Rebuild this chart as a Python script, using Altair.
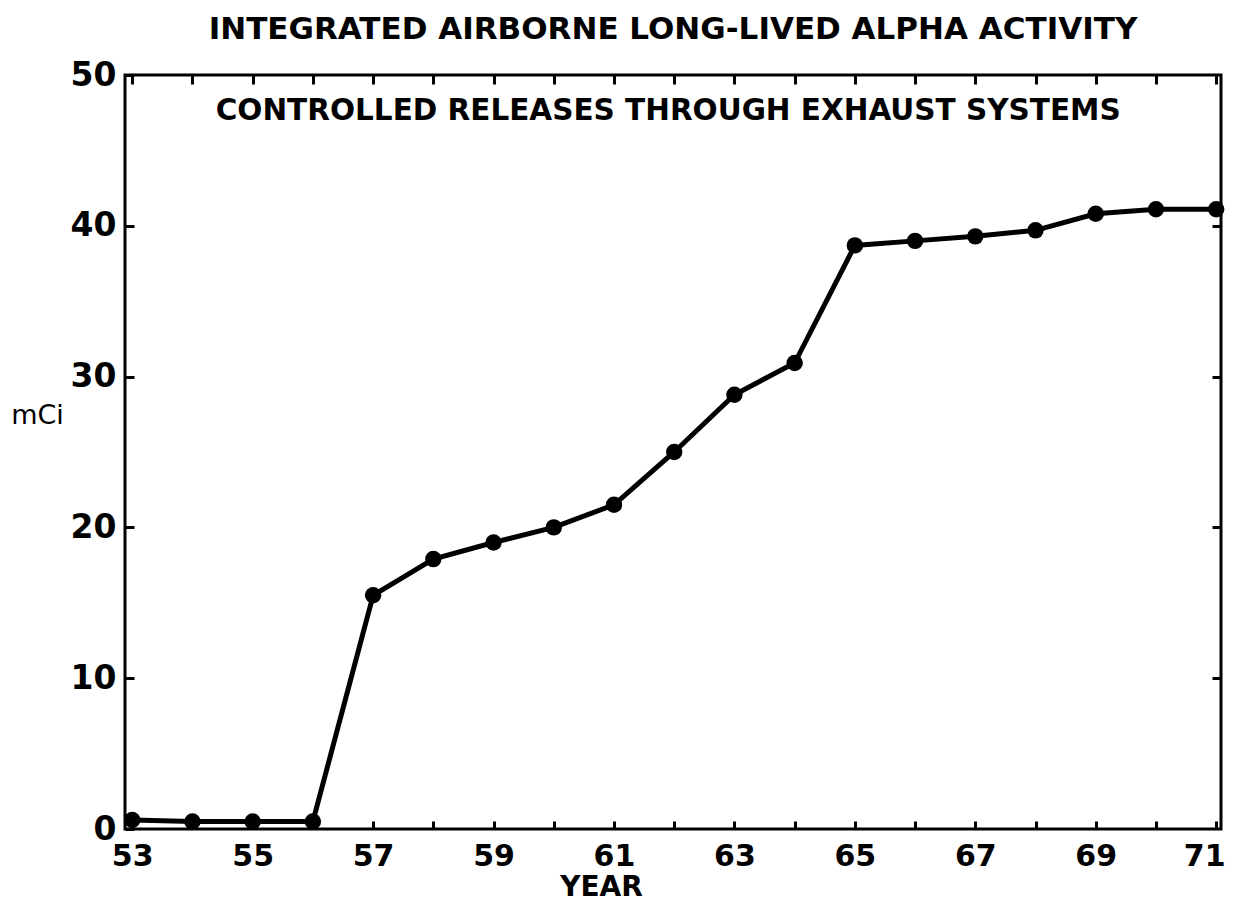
import altair as alt
import pandas as pd

years = [53, 54, 55, 56, 57, 58, 59, 60, 61, 62, 63, 64, 65, 66, 67, 68, 69, 70, 71]
mci = [0.6, 0.5, 0.5, 0.5, 15.5, 17.9, 19.0, 20.0, 21.5, 25.0, 28.8, 30.9, 38.7, 39.0, 39.3, 39.7, 40.8, 41.1, 41.1]
x_ticks = years
y_ticks = [0, 10, 20, 30, 40, 50]
y_ticks_right = [10, 20, 30, 40]

title_text = "INTEGRATED AIRBORNE LONG-LIVED ALPHA ACTIVITY"
sub_text = ["CONTROLLED RELEASES THROUGH EXHAUST SYSTEMS"]
sub_x = [61.9]
sub_y = [47.0]

df = pd.DataFrame({"year": years, "mci": mci})
sub_df = pd.DataFrame({"x": sub_x, "y": sub_y, "t": sub_text})

FONT = "DejaVu Sans"
xscale = alt.Scale(domain=[52.88, 71.08], nice=False, zero=False)
yscale = alt.Scale(domain=[0, 50], nice=False)

x_bottom = alt.Axis(
    orient="bottom", values=x_ticks, title="YEAR", grid=False, domain=False,
    offset=-8, tickSize=8, tickWidth=3, tickColor="black",
    labelExpr="datum.value % 2 == 1 ? datum.label : ''",
    labelOffset={"expr": "datum.value == 71 ? -12 : 0"},
    labelFont=FONT, labelFontSize=30, labelFontWeight="bold", labelColor="black",
    labelPadding=12, labelFlush=False, labelOverlap=False,
    titleFont=FONT, titleFontSize=28, titleFontWeight="bold", titleColor="black",
    titleX=476, titleY=74, titleAnchor="start", titleAlign="center", titleBaseline="alphabetic",
)
y_left = alt.Axis(
    orient="left", values=y_ticks, title="mCi", grid=False, domain=False,
    offset=-9, tickSize=9, tickWidth=3, tickColor="black",
    labelFont=FONT, labelFontSize=33, labelFontWeight="bold", labelColor="black",
    labelPadding=9, labelOverlap=False, labelFlush=False,
    titleFont=FONT, titleFontSize=27, titleFontWeight="normal", titleColor="black",
    titleAngle=0, titleX=-97, titleY=340, titleAlign="center", titleBaseline="middle",
)
x_top = alt.Axis(
    orient="top", values=x_ticks, title=None, labels=False, grid=False, domain=False,
    offset=-9, tickSize=9, tickWidth=3, tickColor="black",
)
y_right = alt.Axis(
    orient="right", values=y_ticks_right, title=None, labels=False, grid=False, domain=False,
    offset=-9, tickSize=9, tickWidth=3, tickColor="black",
)

base = alt.Chart(df)
line = base.mark_line(color="black", strokeWidth=5).encode(
    x=alt.X("year:Q", scale=xscale, axis=x_bottom),
    y=alt.Y("mci:Q", scale=yscale, axis=y_left),
)
pts = base.mark_circle(color="black", opacity=1, size=270).encode(
    x=alt.X("year:Q", scale=xscale, axis=None),
    y=alt.Y("mci:Q", scale=yscale, axis=None),
)
frame_axes = base.mark_point(opacity=0).encode(
    x=alt.X("year:Q", scale=xscale, axis=x_top),
    y=alt.Y("mci:Q", scale=yscale, axis=y_right),
)
sub = alt.Chart(sub_df).mark_text(
    font=FONT, fontSize=29.5, fontWeight="bold", color="black",
    align="center", baseline="alphabetic",
).encode(
    x=alt.X("x:Q", scale=xscale, axis=None),
    y=alt.Y("y:Q", scale=yscale, axis=None),
    text="t:N",
)

chart = alt.layer(line, pts, sub, frame_axes).resolve_axis(
    x="independent", y="independent"
).properties(
    width=1096,
    height=754,
    padding={"left": 117, "top": 67, "right": 5, "bottom": 76},
    autosize=alt.AutoSizeParams(type="none"),
    title=alt.TitleParams(
        text=title_text, font=FONT, fontSize=31, fontWeight="bold", color="black",
        anchor="middle", offset=13,
    ),
).configure(
    background="white"
).configure_view(
    stroke="black", strokeWidth=3
)

chart.save("out.html", embed_options={"renderer": "svg", "actions": False})
